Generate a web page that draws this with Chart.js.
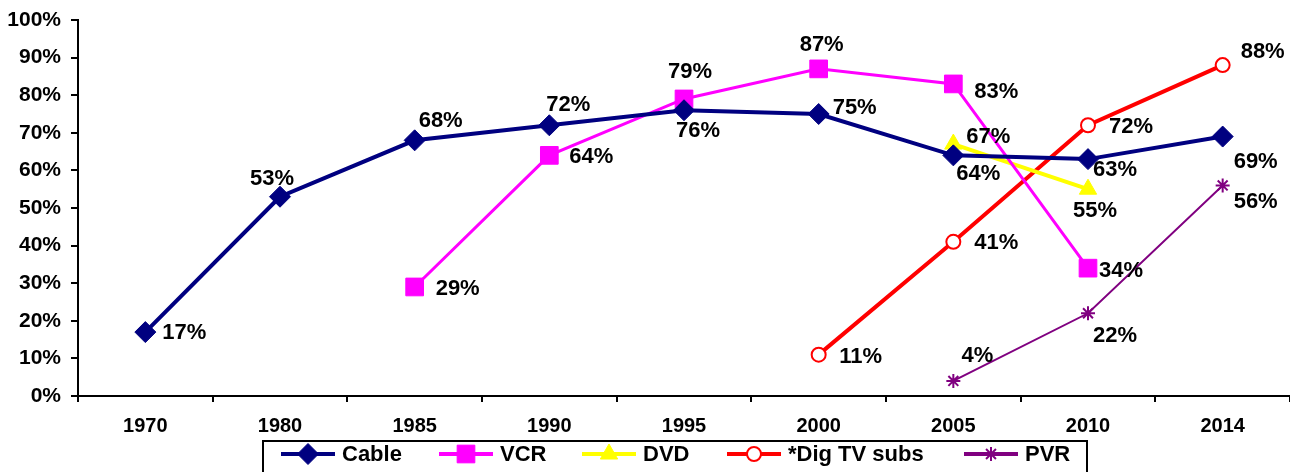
<!DOCTYPE html>
<html><head><meta charset="utf-8">
<script src="https://cdn.jsdelivr.net/npm/chart.js@4"></script>
<style>html,body{margin:0;padding:0;background:#fff}#wrap{width:1290px;height:472px;position:relative}</style>
</head><body><div id="wrap"><canvas id="c" width="1290" height="472"></canvas></div>
<script>
const years = ['1970','1980','1985','1990','1995','2000','2005','2010','2014'];
const cable = [17,53,68,72,76,75,64,63,69];
const vcr = [null,null,29,64,79,87,83,34,null];
const dvd = [null,null,null,null,null,null,67,55,null];
const digTV = [null,null,null,null,null,11,41,72,88];
const pvr = [null,null,null,null,null,null,4,22,56];
const yTicks = ['0%','10%','20%','30%','40%','50%','60%','70%','80%','90%','100%'];

// label offsets (dx, dy) per point, relative to the point
const labelOffsets = {
  Cable: [[39,0],[-8,-19],[26,-20],[19,-21],[14,20],[36,-7],[25,18],[27,10],[33,24]],
  VCR: [null,null,[43,1],[42,1],[6,-28],[3,-25],[43,7],[33,2],null],
  DVD: [null,null,null,null,null,null,[35,-8],[7,21],null],
  '*Dig TV subs': [null,null,null,null,null,[42,1],[43,0],[43,1],[40,-14]],
  PVR: [null,null,null,null,null,null,[24,-26],[27,22],[33,15]]
};

const FONT = '"Liberation Sans", Arial, sans-serif';

const labelPlugin = {
  id: 'labels',
  afterDatasetsDraw(chart) {
    const ctx = chart.ctx;
    ctx.save();
    ctx.font = 'bold 22px ' + FONT;
    ctx.fillStyle = '#000';
    ctx.textAlign = 'center';
    ctx.textBaseline = 'middle';
    chart.data.datasets.forEach((ds, i) => {
      const meta = chart.getDatasetMeta(i);
      const offs = labelOffsets[ds.label];
      meta.data.forEach((pt, j) => {
        const v = ds.data[j];
        if (v == null || !offs[j]) return;
        ctx.fillText(v + '%', pt.x + offs[j][0], pt.y + offs[j][1] + 1);
      });
    });
    ctx.restore();
  }
};

const legendPlugin = {
  id: 'customLegend',
  afterDraw(chart) {
    const ctx = chart.ctx;
    ctx.save();
    ctx.strokeStyle = '#000';
    ctx.lineWidth = 2;
    ctx.strokeRect(263, 441, 824, 40);
    ctx.font = 'bold 22px ' + FONT;
    ctx.textBaseline = 'middle';
    ctx.textAlign = 'left';
    const xs = [281, 439, 582, 727, 964];
    const y = 454;
    chart.data.datasets.forEach((ds, i) => {
      const x = xs[i];
      ctx.strokeStyle = ds.borderColor;
      ctx.lineWidth = 4;
      ctx.beginPath(); ctx.moveTo(x, y); ctx.lineTo(x + 54, y); ctx.stroke();
      ctx.fillStyle = ds.pointBackgroundColor;
      ctx.strokeStyle = ds.pointBorderColor;
      ctx.lineWidth = ds.pointBorderWidth || 1;
      Chart.helpers.drawPoint(ctx, {pointStyle: ds.pointStyle, radius: ds.pointRadius, borderWidth: ctx.lineWidth}, x + 27, y);
      ctx.fillStyle = '#000';
      ctx.fillText(ds.label, x + 61, y + 1);
    });
    ctx.restore();
  }
};

new Chart(document.getElementById('c'), {
  type: 'line',
  data: {
    labels: years,
    datasets: [
      {label:'Cable', data:cable, borderColor:'#000080', backgroundColor:'#000080', borderWidth:4,
        pointStyle:'rectRot', pointRadius:10.5, pointBackgroundColor:'#000080', pointBorderColor:'#000080', pointBorderWidth:1},
      {label:'VCR', data:vcr, borderColor:'#FF00FF', backgroundColor:'#FF00FF', borderWidth:3,
        pointStyle:'rect', pointRadius:12.5, pointBackgroundColor:'#FF00FF', pointBorderColor:'#FF00FF', pointBorderWidth:1},
      {label:'DVD', data:dvd, borderColor:'#FFFF00', backgroundColor:'#FFFF00', borderWidth:4,
        pointStyle:'triangle', pointRadius:10, pointBackgroundColor:'#FFFF00', pointBorderColor:'#FFFF00', pointBorderWidth:1},
      {label:'*Dig TV subs', data:digTV, borderColor:'#FF0000', backgroundColor:'#fff', borderWidth:4,
        pointStyle:'circle', pointRadius:7, pointBackgroundColor:'#fff', pointBorderColor:'#FF0000', pointBorderWidth:2},
      {label:'PVR', data:pvr, borderColor:'#800080', backgroundColor:'#800080', borderWidth:2,
        pointStyle:'star', pointRadius:7, pointBackgroundColor:'#800080', pointBorderColor:'#800080', pointBorderWidth:2}
    ]
  },
  options: {
    responsive: false,
    animation: false,
    events: [],
    layout: {autoPadding: false, padding: {top: 20, right: 0, left: 0, bottom: 0}},
    plugins: {legend: {display:false}, tooltip: {enabled:false}},
    scales: {
      x: {
        offset: true,
        grid: {offset: true, drawOnChartArea: false, drawTicks: true, tickLength: 6, color:'#000', lineWidth: 2},
        border: {color:'#000', width: 2},
        ticks: {font: {family: FONT, size: 20, weight: 'bold'}, color:'#000', padding: 12, maxRotation: 0, autoSkip: false},
        afterFit(s) { s.height = 76; s.paddingLeft = 0; s.paddingRight = 0; }
      },
      y: {
        min: 0, max: 100,
        grid: {drawOnChartArea: false, drawTicks: true, tickLength: 7, color:'#000', lineWidth: 2},
        border: {color:'#000', width: 2},
        ticks: {stepSize: 10, font: {family: FONT, size: 21, weight: 'bold'}, color:'#000', padding: 10,
          callback: (v) => yTicks[Math.round(v/10)]},
        afterFit(s) { s.width = 78; s.paddingTop = 0; s.paddingBottom = 0; }
      }
    }
  },
  plugins: [labelPlugin, legendPlugin]
});
</script></body></html>
